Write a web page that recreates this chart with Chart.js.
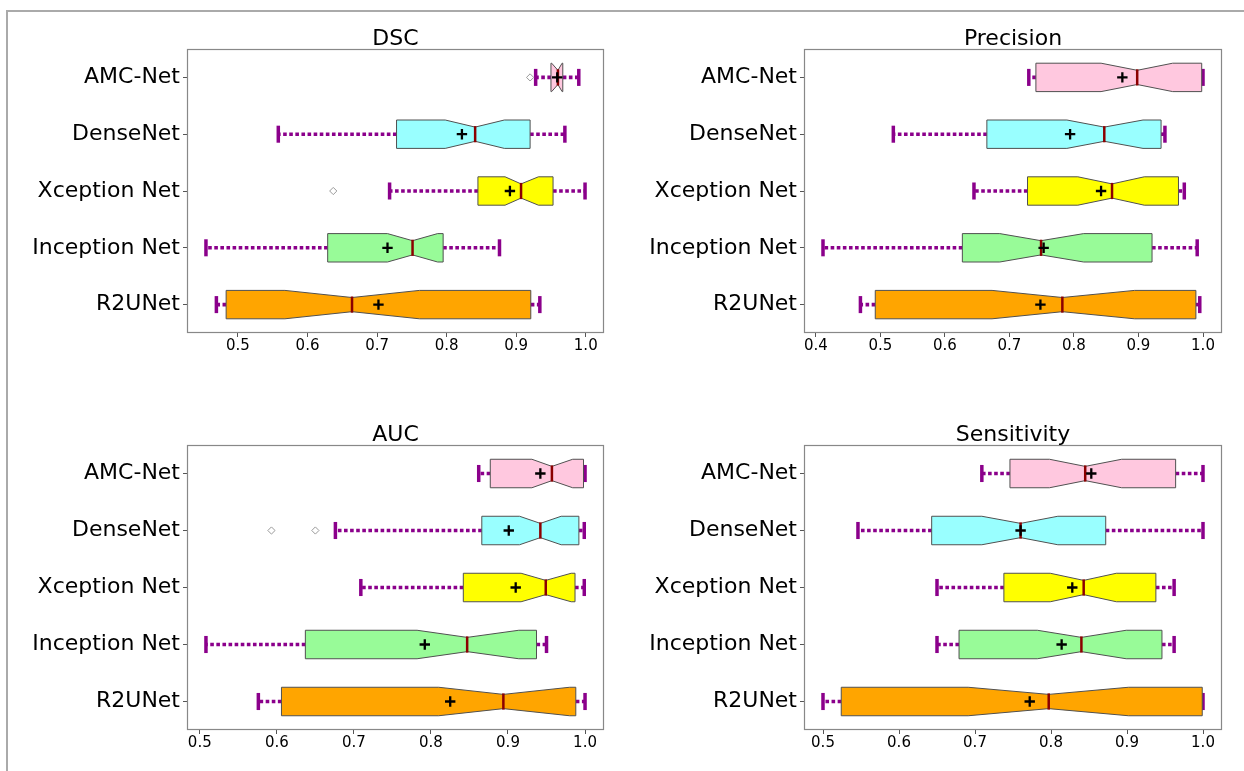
<!DOCTYPE html>
<html>
<head>
<meta charset="utf-8">
<script src="https://cdn.jsdelivr.net/npm/chart.js@4.4.1/dist/chart.umd.min.js"></script>
<style>
  html, body { margin: 0; padding: 0; background: #fff; }
  body { width: 1244px; height: 771px; position: relative; overflow: hidden; }
  #frame { position: absolute; left: 6px; top: 10px; width: 1250px; height: 800px;
           border-left: 2px solid #aaa; border-top: 2px solid #aaa; }
  canvas { position: absolute; }
</style>
</head>
<body>
<div id="frame"></div>
<canvas id="c0"></canvas>
<canvas id="c1"></canvas>
<canvas id="c2"></canvas>
<canvas id="c3"></canvas>
<script>
// ---------------- DATA ----------------
const categories = ['AMC-Net', 'DenseNet', 'Xception Net', 'Inception Net', 'R2UNet'];
const boxColors = ['#ffc8df', '#99ffff', '#ffff00', '#98fb98', '#ffa500'];

// DSC
const dscLow      = [0.928, 0.558, 0.718, 0.454, 0.469];
const dscQ1       = [0.950, 0.728, 0.845, 0.629, 0.483];
const dscNotchLo  = [0.951, 0.798, 0.884, 0.715, 0.5675];
const dscMedian   = [0.960, 0.841, 0.907, 0.751, 0.664];
const dscNotchHi  = [0.966, 0.883, 0.932, 0.787, 0.761];
const dscQ3       = [0.967, 0.920, 0.953, 0.795, 0.921];
const dscHigh     = [0.990, 0.970, 0.999, 0.876, 0.934];
const dscMean     = [0.959, 0.822, 0.891, 0.715, 0.702];
const dscOutliers = [[0.920], [], [0.637], [], []];
const dscTicks    = [0.5, 0.6, 0.7, 0.8, 0.9, 1.0];

// Precision
const precLow      = [0.730, 0.520, 0.645, 0.411, 0.469];
const precQ1       = [0.741, 0.665, 0.728, 0.627, 0.492];
const precNotchLo  = [0.842, 0.789, 0.806, 0.685, 0.673];
const precMedian   = [0.898, 0.847, 0.859, 0.749, 0.782];
const precNotchHi  = [0.953, 0.907, 0.909, 0.815, 0.894];
const precQ3       = [0.998, 0.935, 0.962, 0.921, 0.989];
const precHigh     = [1.000, 0.941, 0.971, 0.991, 0.995];
const precMean     = [0.875, 0.794, 0.842, 0.753, 0.748];
const precOutliers = [[], [], [], [], []];
const precTicks    = [0.4, 0.5, 0.6, 0.7, 0.8, 0.9, 1.0];

// AUC
const aucLow      = [0.862, 0.676, 0.709, 0.508, 0.576];
const aucQ1       = [0.877, 0.866, 0.842, 0.637, 0.606];
const aucNotchLo  = [0.931, 0.915, 0.917, 0.782, 0.810];
const aucMedian   = [0.957, 0.942, 0.949, 0.847, 0.894];
const aucNotchHi  = [0.984, 0.969, 0.982, 0.914, 0.980];
const aucQ3       = [0.998, 0.992, 0.987, 0.937, 0.988];
const aucHigh     = [1.000, 0.999, 0.999, 0.950, 1.000];
const aucMean     = [0.942, 0.901, 0.910, 0.792, 0.825];
const aucOutliers = [[], [0.593, 0.650], [], [], []];
const aucTicks    = [0.5, 0.6, 0.7, 0.8, 0.9, 1.0];

// Sensitivity
const sensLow      = [0.709, 0.546, 0.650, 0.650, 0.500];
const sensQ1       = [0.746, 0.643, 0.738, 0.679, 0.524];
const sensNotchLo  = [0.798, 0.709, 0.799, 0.782, 0.691];
const sensMedian   = [0.845, 0.760, 0.843, 0.840, 0.797];
const sensNotchHi  = [0.893, 0.809, 0.886, 0.899, 0.902];
const sensQ3       = [0.964, 0.872, 0.938, 0.946, 0.999];
const sensHigh     = [1.000, 1.000, 0.962, 0.962, 1.000];
const sensMean     = [0.853, 0.760, 0.828, 0.814, 0.772];
const sensOutliers = [[], [], [], [], []];
const sensTicks    = [0.5, 0.6, 0.7, 0.8, 0.9, 1.0];

const titles = ['DSC', 'Precision', 'AUC', 'Sensitivity'];

// ---------------- PANELS ----------------
const panels = [
  { title: titles[0], low: dscLow, q1: dscQ1, nlo: dscNotchLo, med: dscMedian, nhi: dscNotchHi, q3: dscQ3, high: dscHigh, mean: dscMean, out: dscOutliers, ticks: dscTicks },
  { title: titles[1], low: precLow, q1: precQ1, nlo: precNotchLo, med: precMedian, nhi: precNotchHi, q3: precQ3, high: precHigh, mean: precMean, out: precOutliers, ticks: precTicks },
  { title: titles[2], low: aucLow, q1: aucQ1, nlo: aucNotchLo, med: aucMedian, nhi: aucNotchHi, q3: aucQ3, high: aucHigh, mean: aucMean, out: aucOutliers, ticks: aucTicks },
  { title: titles[3], low: sensLow, q1: sensQ1, nlo: sensNotchLo, med: sensMedian, nhi: sensNotchHi, q3: sensQ3, high: sensHigh, mean: sensMean, out: sensOutliers, ticks: sensTicks }
];

// layout (pixel geometry of each axes box)
const axesBoxes = [
  { left: 187, right: 604, top: 49, bottom: 333 },
  { left: 804, right: 1222, top: 49, bottom: 333 },
  { left: 187, right: 604, top: 445, bottom: 730 },
  { left: 804, right: 1222, top: 445, bottom: 730 }
];
const YAXW = 180, TOPPAD = 40, XAXH = 40, RIGHTPAD = 14;
const FONT = "'DejaVu Sans', 'Liberation Sans', sans-serif";
Chart.defaults.font.family = FONT;

function makePlugin(p) {
  return {
    id: 'notchBoxes',
    beforeDatasetsDraw(chart) {
      const { ctx, chartArea: ca, scales: { x, y } } = chart;
      const band = Math.abs(y.getPixelForValue(1) - y.getPixelForValue(0));
      const h = band * 0.25, w = h * 0.5, cap = band * 0.15;
      const px = v => x.getPixelForValue(v);
      ctx.save();
      ctx.beginPath(); ctx.rect(ca.left, ca.top, ca.width, ca.height); ctx.clip();
      for (let i = 0; i < categories.length; i++) {
        const yc = y.getPixelForValue(i);
        // whiskers
        ctx.strokeStyle = '#8b008b';
        ctx.lineWidth = 3.6;
        ctx.lineCap = 'butt';
        ctx.setLineDash([3.6, 2.5]);
        ctx.beginPath(); ctx.moveTo(px(p.q1[i]), yc); ctx.lineTo(px(p.low[i]), yc); ctx.stroke();
        ctx.beginPath(); ctx.moveTo(px(p.q3[i]), yc); ctx.lineTo(px(p.high[i]), yc); ctx.stroke();
        ctx.setLineDash([]);
        // caps
        ctx.lineWidth = 3.5;
        ctx.beginPath(); ctx.moveTo(px(p.low[i]), yc - cap); ctx.lineTo(px(p.low[i]), yc + cap); ctx.stroke();
        ctx.beginPath(); ctx.moveTo(px(p.high[i]), yc - cap); ctx.lineTo(px(p.high[i]), yc + cap); ctx.stroke();
        // notched box
        ctx.beginPath();
        ctx.moveTo(px(p.q1[i]), yc - h);
        ctx.lineTo(px(p.nlo[i]), yc - h);
        ctx.lineTo(px(p.med[i]), yc - w);
        ctx.lineTo(px(p.nhi[i]), yc - h);
        ctx.lineTo(px(p.q3[i]), yc - h);
        ctx.lineTo(px(p.q3[i]), yc + h);
        ctx.lineTo(px(p.nhi[i]), yc + h);
        ctx.lineTo(px(p.med[i]), yc + w);
        ctx.lineTo(px(p.nlo[i]), yc + h);
        ctx.lineTo(px(p.q1[i]), yc + h);
        ctx.closePath();
        ctx.fillStyle = boxColors[i];
        ctx.fill();
        ctx.strokeStyle = '#505050';
        ctx.lineWidth = 1;
        ctx.stroke();
        // median
        ctx.strokeStyle = '#8b0000';
        ctx.lineWidth = 2.5;
        ctx.beginPath(); ctx.moveTo(px(p.med[i]), yc - w - 1); ctx.lineTo(px(p.med[i]), yc + w + 1); ctx.stroke();
      }
      ctx.restore();
    },
    afterDraw(chart) {
      const { ctx, chartArea: ca } = chart;
      ctx.save();
      ctx.strokeStyle = '#888';
      ctx.lineWidth = 1.2;
      ctx.strokeRect(Math.round(ca.left) + 0.5, Math.round(ca.top) + 0.5, Math.round(ca.width) - 1, Math.round(ca.height) - 1);
      ctx.fillStyle = '#000';
      ctx.font = '22px ' + FONT;
      ctx.textAlign = 'center';
      ctx.textBaseline = 'alphabetic';
      ctx.fillText(p.title, (ca.left + ca.right) / 2, ca.top - 4);
      ctx.restore();
    }
  };
}

panels.forEach((p, k) => {
  const b = axesBoxes[k];
  const cv = document.getElementById('c' + k);
  const W = YAXW + (b.right - b.left) + RIGHTPAD;
  const H = TOPPAD + (b.bottom - b.top) + XAXH;
  cv.width = W; cv.height = H;
  cv.style.left = (b.left - YAXW) + 'px';
  cv.style.top = (b.top - TOPPAD) + 'px';
  cv.style.width = W + 'px'; cv.style.height = H + 'px';

  const allVals = [].concat(p.low, p.high, ...p.out);
  const dmin = Math.min(...allVals), dmax = Math.max(...allVals);
  const m = (dmax - dmin) * 0.05;

  const meanData = p.mean.map((v, i) => ({ x: v, y: categories[i] }));
  const outData = [];
  p.out.forEach((arr, i) => arr.forEach(v => outData.push({ x: v, y: categories[i] })));

  new Chart(cv, {
    type: 'scatter',
    data: {
      datasets: [
        { label: 'outliers', data: outData, pointStyle: 'rectRot', radius: 3.6, borderWidth: 1,
          borderColor: '#999', backgroundColor: 'rgba(255,255,255,0)' },
        { label: 'mean', data: meanData, pointStyle: 'cross', radius: 5.2, borderWidth: 2.3,
          borderColor: '#000', backgroundColor: '#000' }
      ]
    },
    options: {
      responsive: false,
      animation: false,
      events: [],
      layout: { padding: { top: TOPPAD, right: RIGHTPAD, left: 0, bottom: 0 } },
      plugins: { legend: { display: false }, tooltip: { enabled: false }, title: { display: false } },
      scales: {
        x: {
          type: 'linear', position: 'bottom',
          min: dmin - m, max: dmax + m,
          afterBuildTicks: s => { s.ticks = p.ticks.map(v => ({ value: v })); },
          afterFit: s => { s.height = XAXH; },
          border: { display: false },
          grid: { display: true, drawOnChartArea: false, drawTicks: true, tickLength: 4, color: '#555', lineWidth: 1 },
          ticks: { autoSkip: false, maxRotation: 0, minRotation: 0, padding: 0, color: '#000',
                   font: { size: 15, family: FONT }, callback: v => Number(v).toFixed(1) }
        },
        y: {
          type: 'category', labels: categories, offset: true, position: 'left',
          afterFit: s => { s.width = YAXW; },
          border: { display: false },
          grid: { display: true, offset: false, drawOnChartArea: false, drawTicks: true, tickLength: 4, color: '#555', lineWidth: 1 },
          ticks: { autoSkip: false, padding: 3, color: '#000', font: { size: 22, family: FONT } }
        }
      }
    },
    plugins: [makePlugin(p)]
  });
});
</script>
</body>
</html>
